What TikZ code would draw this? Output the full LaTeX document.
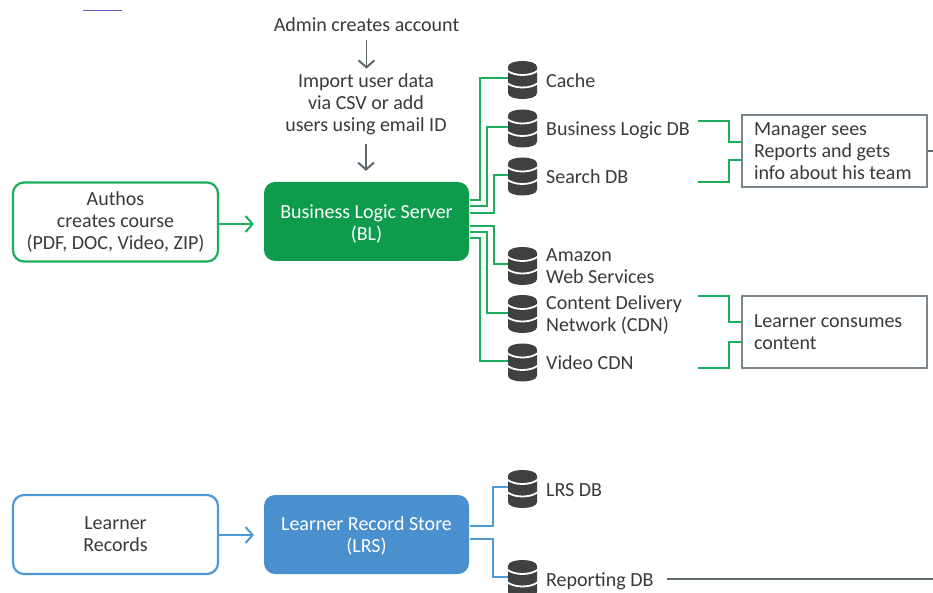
\documentclass[tikz,border=0pt]{standalone}
\usepackage{fontspec}
\setmainfont{Carlito}
\usetikzlibrary{arrows.meta}
\definecolor{gfill}{HTML}{0E9B4C}
\definecolor{gline}{HTML}{1CAE5B}
\definecolor{bfill}{HTML}{4A90CE}
\definecolor{bline}{HTML}{4F9AD6}
\definecolor{txt}{HTML}{3A3A3A}
\definecolor{dbc}{HTML}{404040}
\definecolor{grayb}{HTML}{7C878D}
\definecolor{graya}{HTML}{5E696E}
\definecolor{topmark}{HTML}{6A5ACD}
\tikzset{
  x=1pt,y=-1pt,
  base/.style={font=\fontsize{20}{22}\selectfont,text=txt,align=center,inner sep=0pt},
  lab/.style={base,anchor=west,align=left},
  roundbox/.style={base,rounded corners=11pt,minimum width=205pt,minimum height=79pt,line width=2.2pt},
  gbox/.style={roundbox,draw=gline,fill=white},
  bbox/.style={roundbox,draw=bline,fill=white},
  solidg/.style={roundbox,fill=gfill,text=white},
  solidb/.style={roundbox,fill=bfill,text=white},
  infobox/.style={base,align=flush left,anchor=center,draw=grayb,line width=2.4pt,fill=white,minimum width=185pt,minimum height=72pt,text width=161pt,inner xsep=12pt},
  dbnode/.style={inner sep=0pt,minimum width=29pt,minimum height=38pt},
  gl/.style={draw=gline,line width=2.2pt},
  bl/.style={draw=bline,line width=2.2pt},
  gr/.style={draw=graya,line width=1.8pt},
  tipg/.style={-{Straight Barb[length=7pt,width=16pt,line width=2pt]}},
  dbicon/.pic={
    \fill[dbc] (-14.5,-13) .. controls (-14.5,-21) and (14.5,-21) .. (14.5,-13)
      -- (14.5,13) .. controls (14.5,21) and (-14.5,21) .. (-14.5,13) -- cycle;
    \draw[white,line width=1.8pt] (-15.5,-9.5) .. controls (-8,-3.5) and (8,-3.5) .. (15.5,-9.5);
    \draw[white,line width=1.8pt] (-15.5,3) .. controls (-8,9) and (8,9) .. (15.5,3);
  }
}
\begin{document}
\begin{tikzpicture}
\clip (0,0) rectangle (933,593);
\fill[white] (0,0) rectangle (933,593);
\draw[draw=topmark,line width=0.8pt] (83,10.5) -- (122,10.5);

% main boxes
\node[gbox] (author) at (115.5,222) {Authos\\creates course\\(PDF, DOC, Video, ZIP)};
\node[solidg] (bls) at (366.5,221.5) {\rule{0pt}{19pt}Business Logic Server\\(BL)};
\node[bbox] (records) at (115.5,534.5) {Learner\\Records};
\node[solidb] (lrs) at (366.5,534.5) {\rule{0pt}{17pt}Learner Record Store\\(LRS)};

% top text
\node[base] (admin) at (366.5,25) {Admin creates account};
\node[base] (import) at (366,104.5) {Import user data\\via CSV or add\\users using email ID};

% databases
\node[dbnode] (cache) at (522.5,80) {};
\node[dbnode] (bldb) at (522.5,128.5) {};
\node[dbnode] (search) at (522.5,176.5) {};
\node[dbnode] (aws) at (522.5,266) {};
\node[dbnode] (cdn) at (522.5,314) {};
\node[dbnode] (video) at (522.5,362.5) {};
\node[dbnode] (lrsdb) at (522.5,489) {};
\node[dbnode] (repdb) at (522.5,579) {};

% labels
\node[lab] (lcache) at (546,80.5) {Cache};
\node[lab] (lbldb) at (546,130) {Business Logic DB};
\node[lab] (lsearch) at (546,177) {Search DB};
\node[lab] (laws) at (546,266) {Amazon\\Web Services};
\node[lab] (lcdn) at (546,315) {Content Delivery\\Network (CDN)};
\node[lab] (lvideo) at (546,363) {Video CDN};
\node[lab] (llrsdb) at (546,490) {LRS DB};
\node[lab] (lrep) at (546,581) {Reporting DB};

% info boxes
\node[infobox] (manager) at (834.5,151) {Manager sees\\Reports and gets\\info about his team};
\node[infobox] (consumes) at (834.5,332) {Learner consumes\\content};

% free ends
\coordinate (m1) at (698,121);
\coordinate (m2) at (698,182);
\coordinate (c1) at (698,296);
\coordinate (c2) at (698,368);
\coordinate (rstart) at (667,579);
\coordinate (rend) at (933,579);
\coordinate (mend) at (933,151);

% arrows
\draw[gline,line width=2.2pt,tipg,shorten >=9pt] ([yshift=-2pt]author.east) -- ([yshift=-2pt]author.east -| bls.west);
\draw[bline,line width=2.2pt,tipg,shorten >=9pt] ([yshift=-0.5pt]records.east) -- ([yshift=-0.5pt]records.east -| lrs.west);
\draw[gr,tipg,shorten <=8pt,shorten >=5pt] (admin.south) -- (admin.south |- import.north);
\draw[gr,tipg,shorten <=9pt,shorten >=10pt] (import.south) -- (import.south |- bls.north);

% green connectors (yshift is upward on the canvas)
\draw[gl] ([yshift=21.5pt]bls.east) -| ([xshift=-28pt,yshift=2pt]cache.west) -- ([yshift=2pt]cache.west);
\draw[gl] ([yshift=15.5pt]bls.east) -| ([xshift=-21pt,yshift=1.5pt]bldb.west) -- ([yshift=1.5pt]bldb.west);
\draw[gl] ([yshift=8.5pt]bls.east) -| ([xshift=-14pt,yshift=1.5pt]search.west) -- ([yshift=1.5pt]search.west);
\draw[gl] ([yshift=-4.5pt]bls.east) -| ([xshift=-14pt,yshift=2pt]aws.west) -- ([yshift=2pt]aws.west);
\draw[gl] ([yshift=-10.5pt]bls.east) -| ([xshift=-21pt,yshift=1pt]cdn.west) -- ([yshift=1pt]cdn.west);
\draw[gl] ([yshift=-16.5pt]bls.east) -| ([xshift=-28pt,yshift=1.5pt]video.west) -- ([yshift=1.5pt]video.west);

% blue connectors
\draw[bl] ([yshift=8.5pt]lrs.east) -| ([xshift=-15pt,yshift=2pt]lrsdb.west) -- ([yshift=2pt]lrsdb.west);
\draw[bl] ([yshift=-4.5pt]lrs.east) -| ([xshift=-15pt,yshift=2pt]repdb.west) -- ([yshift=2pt]repdb.west);

% to info boxes
\draw[gl] (m1) -| ([xshift=-12pt,yshift=9pt]manager.west) -- ([yshift=9pt]manager.west);
\draw[gl] (m2) -| ([xshift=-12pt,yshift=-9pt]manager.west) -- ([yshift=-9pt]manager.west);
\draw[gl] (c1) -| ([xshift=-12pt,yshift=10pt]consumes.west) -- ([yshift=10pt]consumes.west);
\draw[gl] (c2) -| ([xshift=-12pt,yshift=-10pt]consumes.west) -- ([yshift=-10pt]consumes.west);
\draw[gr] (manager.east) -- (mend);
\draw[gr] (rstart) -- (rend);

% icons on top
\foreach \n in {cache,bldb,search,aws,cdn,video,lrsdb,repdb} \pic at (\n) {dbicon};
\end{tikzpicture}
\end{document}
